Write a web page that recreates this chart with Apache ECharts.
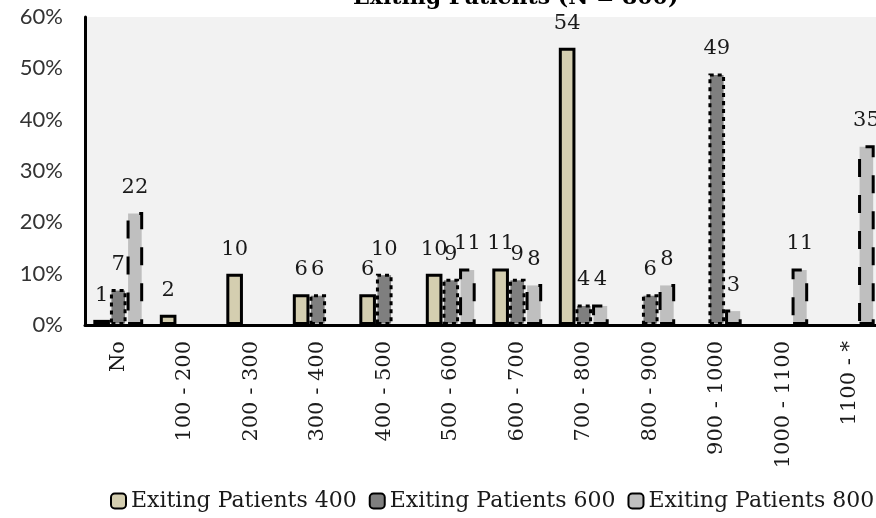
<!DOCTYPE html>
<html>
<head>
<meta charset="utf-8">
<title>Exiting Patients</title>
<script src="https://cdn.jsdelivr.net/npm/echarts@6/dist/echarts.min.js"></script>
<style>
  html, body { margin: 0; padding: 0; background: #ffffff; }
  #chart { width: 876px; height: 518px; }
</style>
</head>
<body>
<div id="chart"></div>
<script>
// Weight bands (x axis)
const categories = ['No', '100 - 200', '200 - 300', '300 - 400', '400 - 500', '500 - 600',
  '600 - 700', '700 - 800', '800 - 900', '900 - 1000', '1000 - 1100', '1100 - *'];

// Share of patients (%) in each band; null = no bar
const patients400 = [1, 2, 10, 6, 6, 10, 11, 54, null, null, null, null];
const patients600 = [7, null, null, 6, 10, 9, 9, 4, 6, 49, null, null];
const patients800 = [22, null, null, null, null, 11, 8, 4, 8, 3, 11, 35];

const seriesNames = ['Exiting Patients 400', 'Exiting Patients 600', 'Exiting Patients 800'];

// Value axis ticks
const yTicks = { min: 0, max: 60, interval: 10 };

const serif = 'DejaVu Serif';
const labelStyle = {
  show: true,
  position: 'top',
  distance: 14,
  fontFamily: serif,
  fontSize: 21,
  color: '#1a1a1a'
};

function barSeries(name, data, fill, borderType) {
  return {
    name: name,
    type: 'bar',
    data: data,
    barGap: '0%',
    barCategoryGap: '25%',
    itemStyle: {
      color: fill,
      borderColor: '#000000',
      borderWidth: 3,
      borderType: borderType
    },
    label: labelStyle
  };
}

const chart = echarts.init(document.getElementById('chart'), null, { renderer: 'canvas' });

chart.setOption({
  animation: false,
  backgroundColor: '#ffffff',
  title: {
    text: 'Exiting Patients (N = 800)',
    left: 348,
    top: -18,
    textStyle: {
      fontFamily: serif,
      fontWeight: 'bold',
      fontSize: 22,
      color: '#000000'
    }
  },
  legend: {
    left: 105,
    top: 485,
    width: 1000,
    itemWidth: 15,
    itemHeight: 15,
    itemGap: 12,
    textStyle: {
      fontFamily: serif,
      fontSize: 22,
      color: '#1a1a1a'
    },
    data: seriesNames
  },
  grid: {
    left: 85,
    top: 17,
    width: 798,
    height: 308,
    show: true,
    backgroundColor: '#f2f2f2',
    borderWidth: 0,
    containLabel: false,
    outerBoundsMode: 'none'
  },
  xAxis: {
    type: 'category',
    data: categories,
    axisLine: { show: true, lineStyle: { color: '#000000', width: 3 } },
    axisTick: { show: false },
    axisLabel: {
      rotate: 90,
      interval: 0,
      margin: 16,
      fontFamily: serif,
      fontSize: 21,
      color: '#1a1a1a'
    },
    splitLine: { show: false }
  },
  yAxis: {
    type: 'value',
    min: yTicks.min,
    max: yTicks.max,
    interval: yTicks.interval,
    axisLine: { show: true, lineStyle: { color: '#000000', width: 3 } },
    axisTick: { show: false },
    splitLine: { show: false },
    axisLabel: {
      formatter: '{value}%',
      margin: 22,
      fontFamily: 'Lato',
      fontSize: 22,
      color: '#333333'
    }
  },
  series: [
    barSeries(seriesNames[0], patients400, '#d4ceb0', 'solid'),
    barSeries(seriesNames[1], patients600, '#7f7f7f', [4, 4]),
    barSeries(seriesNames[2], patients800, '#bfbfbf', [18, 18])
  ]
});
</script>
</body>
</html>
